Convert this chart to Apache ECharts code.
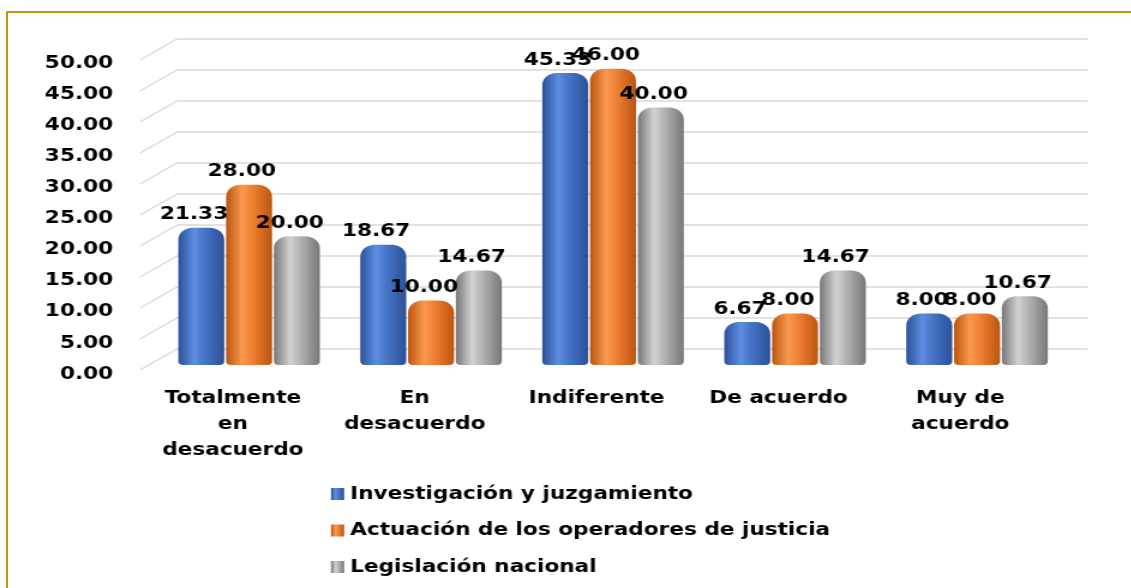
<!DOCTYPE html>
<html>
<head>
<meta charset="utf-8">
<script src="https://cdn.jsdelivr.net/npm/echarts@6/dist/echarts.min.js"></script>
<style>
html,body{margin:0;padding:0;background:#fff;overflow:hidden;}
#wrap{position:relative;width:1131px;height:588px;overflow:hidden;}
#frame{position:absolute;left:6px;top:11px;width:1200px;height:700px;border:2.5px solid #C3960F;box-sizing:border-box;}
#chart{position:absolute;left:0;top:0;width:943px;height:588px;transform:scaleX(1.2);transform-origin:0 0;}
</style>
</head>
<body>
<div id="wrap"><div id="frame"></div><div id="chart"></div></div>
<script>
const categories = ['Totalmente\nen\ndesacuerdo', 'En\ndesacuerdo', 'Indiferente', 'De acuerdo', 'Muy de\nacuerdo'];
const seriesNames = ['Investigación y juzgamiento', 'Actuación de los operadores de justicia', 'Legislación nacional'];
const investigacion = [21.33, 18.67, 45.33, 6.67, 8.00];
const actuacion = [28.00, 10.00, 46.00, 8.00, 8.00];
const legislacion = [20.00, 14.67, 40.00, 14.67, 10.67];
const yTicks = [0, 5, 10, 15, 20, 25, 30, 35, 40, 45, 50];

const FONT = 'DejaVu Sans';
function cyl(dark, light, mid) {
  return new echarts.graphic.LinearGradient(0, 0, 1, 0, [
    {offset: 0, color: dark},
    {offset: 0.35, color: light},
    {offset: 0.6, color: mid},
    {offset: 1, color: dark}
  ]);
}
const colors = [
  cyl('#2C5199', '#5E8EE2', '#4472C4'),
  cyl('#BB5510', '#FA9A50', '#ED7D31'),
  cyl('#777777', '#D2D2D2', '#B0B0B0')
];
const dataSets = [investigacion, actuacion, legislacion];

const chart = echarts.init(document.getElementById('chart'), null, {renderer: 'canvas'});

const barSeries = dataSets.map((d, i) => ({
  name: seriesNames[i],
  type: 'bar',
  xAxisIndex: 2, yAxisIndex: 2,
  data: d,
  barWidth: 38.3,
  barGap: '4%',
  itemStyle: {color: colors[i], borderRadius: [12, 12, 4, 4]},
  label: {
    show: true, position: 'top', distance: 4, offset: [-6, 0],
    formatter: p => p.value.toFixed(2),
    fontFamily: FONT, fontWeight: 'bold', fontSize: 18, color: '#000'
  },
  z: 3
}));

const option = {
  animation: false,
  backgroundColor: 'transparent',
  grid: [
    {left: 118.3, right: 67, top: 63, bottom: 214},
    {left: 147.5, right: 36.3, top: 39, bottom: 239},
    {left: 131.7, right: 53, top: 43, bottom: 223}
  ],
  xAxis: [
    {gridIndex: 0, type: 'category', data: categories,
      axisLine: {show: false}, axisTick: {show: false},
      axisLabel: {margin: 11, fontFamily: FONT, fontWeight: 'bold', fontSize: 18, color: '#000', lineHeight: 26, interval: 0}},
    {gridIndex: 1, type: 'category', data: categories, show: false},
    {gridIndex: 2, type: 'category', data: categories, show: false}
  ],
  yAxis: [
    {gridIndex: 0, type: 'value', min: 0, max: 50, interval: 5,
      axisLine: {show: false}, axisTick: {show: false}, splitLine: {show: false},
      axisLabel: {margin: 24, formatter: v => v.toFixed(2), fontFamily: FONT, fontWeight: 'bold', fontSize: 18, color: '#000'}},
    {gridIndex: 1, type: 'value', min: 0, max: 50, interval: 5,
      axisLine: {show: false}, axisTick: {show: false}, axisLabel: {show: false},
      splitLine: {show: true, lineStyle: {color: '#D9D9D9', width: 1.5}}},
    {gridIndex: 2, type: 'value', min: 0, max: 50, interval: 5, show: false}
  ],
  legend: {
    orient: 'vertical', left: 275.8, top: 483, padding: 0,
    itemWidth: 11, itemHeight: 12, itemGap: 14.5,
    icon: 'rect',
    data: seriesNames,
    textStyle: {fontFamily: FONT, fontWeight: 'bold', fontSize: 18, color: '#000', lineHeight: 22}
  },
  series: [
    {
      type: 'custom', xAxisIndex: 1, yAxisIndex: 1, silent: true,
      data: yTicks.map(v => [0, v]),
      renderItem: function (params, api) {
        const pt = api.coord([0, api.value(1)]);
        const x0 = params.coordSys.x;
        return {type: 'line', shape: {x1: x0, y1: pt[1], x2: x0 - 30.8, y2: pt[1] + 21},
          style: {stroke: '#D9D9D9', lineWidth: 1.5}};
      },
      z: 1
    }
  ].concat(barSeries)
};
chart.setOption(option);
</script>
</body>
</html>
